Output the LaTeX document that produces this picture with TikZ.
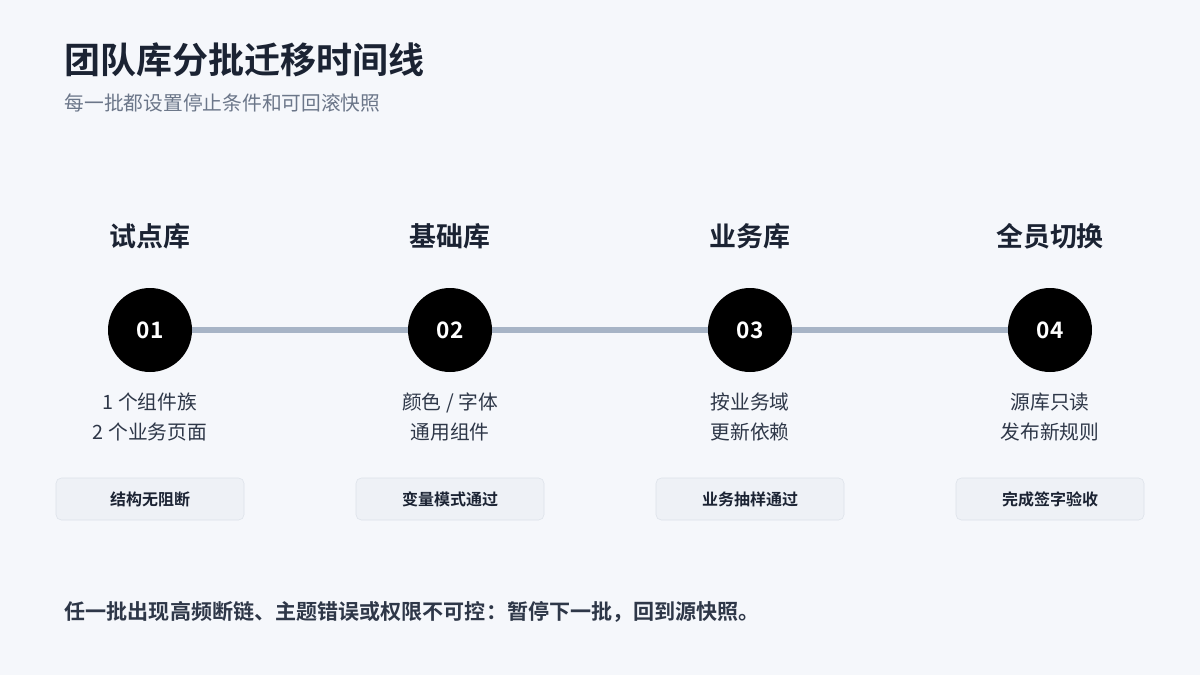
\documentclass[tikz,border=0pt]{standalone}
\usepackage{fontspec}
\setmainfont{Noto Sans CJK SC}[BoldFont={Noto Sans CJK SC Bold}]
\definecolor{bg}{HTML}{F5F7FB}
\definecolor{ink}{HTML}{1B2333}
\definecolor{sub}{HTML}{6B7689}
\definecolor{lin}{HTML}{A7B4C6}
\definecolor{boxf}{HTML}{EEF1F6}
\definecolor{boxd}{HTML}{DCE1E9}
\definecolor{txt}{HTML}{2E3748}
\begin{document}
\begin{tikzpicture}[x=0.75pt,y=-0.75pt,
 head/.style={font=\bfseries\fontsize{20.2}{22}\selectfont,text=ink},
 circ/.style={circle,fill=black,minimum size=63pt,inner sep=0,text=white,font=\bfseries\fontsize{17}{20}\selectfont},
 desc/.style={align=center,text=txt,font=\fontsize{14.8}{21.8}\selectfont},
 gate/.style={draw=boxd,fill=boxf,rounded corners=4pt,minimum width=141pt,minimum height=31.5pt,text=ink,font=\bfseries\fontsize{12}{13}\selectfont}]
\fill[bg] (0,0) rectangle (1200,675);
\node[anchor=west,text=ink,font=\bfseries\fontsize{27}{30}\selectfont] (title) at (60,60) {团队库分批迁移时间线};
\node[anchor=west,text=sub,font=\fontsize{14.8}{17}\selectfont] (subt) at (60,103) {每一批都设置停止条件和可回滚快照};
\coordinate (l1) at (150,330);
\coordinate (l4) at (1050,330);
\draw[lin,line width=4pt] (l1) -- (l4);
\foreach \i/\x/\h/\n/\d/\g in {1/150/试点库/01/{1 个组件族\\2 个业务页面}/结构无阻断,
 2/450/基础库/02/{颜色 / 字体\\通用组件}/变量模式通过,
 3/750/业务库/03/{按业务域\\更新依赖}/业务抽样通过,
 4/1050/全员切换/04/{源库只读\\发布新规则}/完成签字验收}{
 \node[head] (h\i) at (\x,236) {\h};
 \node[circ] (c\i) at (\x,330) {\n};
 \node[desc] (d\i) at (\x,417) {\d};
 \node[gate] (g\i) at (\x,499) {\g};
}
\node[anchor=west,text=txt,font=\bfseries\fontsize{15.8}{17}\selectfont] (foot) at (60,612) {任一批出现高频断链、主题错误或权限不可控：暂停下一批，回到源快照。};
\end{tikzpicture}
\end{document}
